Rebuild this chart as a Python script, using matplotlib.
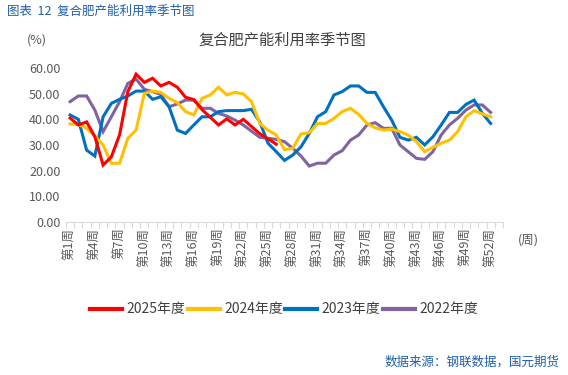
import matplotlib
matplotlib.use('Agg')
import matplotlib.pyplot as plt
import numpy as np

plt.rcParams['font.family'] = ['Noto Sans CJK SC', 'DejaVu Sans']

# weekly capacity utilisation (%)
weeks = ['第%d周' % i for i in range(1, 54)]

y2025 = [40.5, 37.8, 39.0, 33.2, 22.2, 25.4, 34.0, 50.8, 57.6, 54.4,
         56.0, 53.0, 54.4, 52.5, 48.6, 47.7, 43.8, 40.8, 37.8, 40.2,
         37.8, 40.0, 37.2, 34.4, 32.4, 30.3]

y2024 = [38.2, 38.0, 36.5, 33.5, 30.0, 22.9, 22.9, 32.6, 35.8, 50.1,
         51.0, 50.5, 48.2, 46.5, 43.0, 41.7, 48.2, 49.5, 52.5, 49.5,
         50.5, 49.9, 46.9, 38.4, 35.8, 33.9, 28.2, 28.7, 34.3, 34.8,
         38.4, 38.4, 40.4, 43.0, 44.3, 41.9, 38.4, 36.7, 35.8, 36.2,
         35.2, 33.9, 31.3, 27.4, 29.1, 30.7, 31.9, 35.2, 41.0, 43.4,
         42.1, 41.0]

y2023 = [41.7, 40.0, 28.0, 25.7, 41.0, 46.2, 47.8, 49.1, 51.0, 51.0,
         47.8, 48.8, 44.9, 35.8, 34.5, 37.8, 41.0, 41.0, 43.0, 43.4,
         43.4, 43.4, 43.9, 39.0, 30.7, 27.4, 24.0, 26.1, 29.3, 34.5,
         41.0, 43.0, 49.5, 50.8, 53.0, 53.0, 50.5, 50.5, 44.9, 39.7,
         33.0, 31.9, 33.0, 30.0, 33.2, 37.8, 42.7, 42.7, 45.8, 47.5,
         42.3, 38.4]

y2022 = [46.9, 49.1, 49.1, 43.6, 35.2, 41.0, 46.9, 54.0, 55.7, 51.7,
         50.8, 49.7, 44.9, 46.0, 47.5, 47.5, 44.3, 44.3, 42.3, 41.3,
         39.7, 37.8, 35.4, 33.0, 32.6, 32.2, 31.3, 28.7, 25.7, 21.8,
         22.9, 22.9, 26.1, 27.8, 31.9, 33.9, 37.8, 38.7, 36.5, 36.5,
         30.0, 27.4, 24.8, 24.4, 27.4, 33.9, 37.8, 40.4, 43.6, 45.6,
         45.6, 42.7]

series = [('2025年度', y2025, '#FF0000'),
          ('2024年度', y2024, '#FFC000'),
          ('2023年度', y2023, '#0070C0'),
          ('2022年度', y2022, '#8064A2')]

fig = plt.figure(figsize=(5.68, 3.75), dpi=100)
ax = fig.add_axes([66 / 568, 1 - 222 / 375, 437 / 568, 154 / 375])

# draw oldest first so 2025 is on top
for name, vals, col in reversed(series):
    ax.plot(np.arange(len(vals)), vals, color=col, lw=2.2, label=name,
            solid_joinstyle='miter')

ax.set_xlim(-0.5, len(weeks) - 0.5)
ax.set_ylim(0, 60)
ax.set_yticks(np.arange(0, 61, 10))
ax.set_yticklabels(['%.2f' % v for v in np.arange(0, 61, 10)])

ax.set_xticks(np.arange(-0.5, len(weeks)), minor=True)
ax.set_xticks(np.arange(0, len(weeks), 3))
ax.set_xticklabels(weeks[::3], rotation=90)
ax.tick_params(axis='x', which='major', length=0, pad=4, labelsize=9,
               labelcolor='#595959')
ax.tick_params(axis='x', which='minor', length=4, color='#d9d9d9', width=0.8)
ax.tick_params(axis='y', length=0, labelsize=9, labelcolor='#595959', pad=4)

for s in ['top', 'right', 'left']:
    ax.spines[s].set_visible(False)
ax.spines['bottom'].set_color('#d9d9d9')

fig.text(0.012, 0.97, '图表  12  复合肥产能利用率季节图', fontsize=9,
         color='#1F5FA8', va='center', ha='left')
fig.text(0.497, 0.893, '复合肥产能利用率季节图', fontsize=11,
         color='#404040', va='center', ha='center')
fig.text(0.047, 0.893, '(%)', fontsize=9, color='#595959', va='center')
fig.text(0.912, 0.36, '(周)', fontsize=9, color='#595959', va='center')

handles, labels = ax.get_legend_handles_labels()
leg = fig.legend(handles[::-1], labels[::-1], loc='center', ncol=4,
                 bbox_to_anchor=(0.5, 0.175), frameon=False, fontsize=10,
                 handlelength=2.3, handletextpad=0.3, columnspacing=0.2)
for line in leg.get_lines():
    line.set_linewidth(3)
for t in leg.get_texts():
    t.set_color('#404040')

fig.text(0.985, 0.035, '数据来源：钢联数据，国元期货', fontsize=9,
         color='#1F5FA8', va='center', ha='right')

plt.savefig('out.png', dpi=100)
